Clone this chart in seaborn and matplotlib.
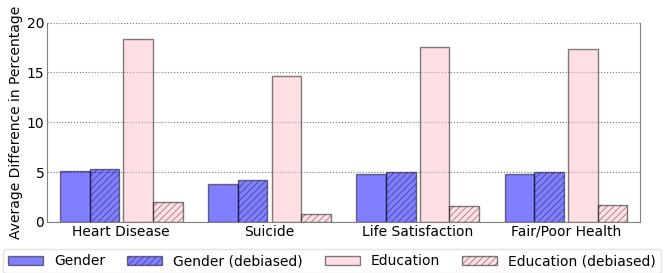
import matplotlib
matplotlib.use("Agg")
import matplotlib.pyplot as plt
import numpy as np
import pandas as pd
import seaborn as sns

categories = ["Heart Disease", "Suicide", "Life Satisfaction", "Fair/Poor Health"]
series = ["Gender", "Gender (debiased)", "Education", "Education (debiased)"]
gender = [5.1, 3.85, 4.85, 4.8]
gender_debiased = [5.35, 4.2, 5.05, 5.05]
education = [18.4, 14.6, 17.55, 17.4]
education_debiased = [2.0, 0.75, 1.65, 1.75]

colors = ["blue", "blue", "pink", "pink"]
hatches = [None, "/////", None, "/////"]

df = pd.DataFrame({
    "category": categories * 4,
    "series": np.repeat(series, len(categories)),
    "value": gender + gender_debiased + education + education_debiased,
})

sns.set_style("white")
plt.rcParams["font.family"] = ["DejaVu Sans"]
plt.rcParams["hatch.linewidth"] = 0.5
plt.rcParams["text.color"] = "black"
plt.rcParams["axes.labelcolor"] = "black"
plt.rcParams["xtick.color"] = "black"
plt.rcParams["ytick.color"] = "black"

fig = plt.figure(figsize=(6.64, 2.73), dpi=100)
ax = fig.add_axes([0.071, 0.187, 0.893, 0.730])

sns.barplot(
    data=df, x="category", y="value", hue="series", order=categories,
    hue_order=series, palette=colors, saturation=1, errorbar=None,
    legend=False, ax=ax,
)

shifts = [-0.014, -0.014, 0.014, 0.014]
for cont, h, s in zip(ax.containers, hatches, shifts):
    for p in cont.patches:
        p.set_alpha(0.5)
        p.set_edgecolor("black")
        p.set_linewidth(1.0)
        p.set_x(p.get_x() + s)
        if h:
            p.set_hatch(h)

ax.set_ylim(0, 20)
ax.set_xlim(-0.5, 3.5)
ax.set_yticks([0, 5, 10, 15, 20])
ax.yaxis.grid(True, linestyle=":", color="black", linewidth=0.8, alpha=0.55)
ax.set_axisbelow(True)
ax.set_xlabel("")
ax.set_ylabel("Average Difference in Percentage", fontsize=10, labelpad=3)
ax.tick_params(axis="both", length=0, labelsize=10, pad=2)
ax.set_xticks([0.5, 1.5, 2.5], minor=True)
ax.tick_params(axis="x", which="minor", length=2, color="grey")
for sp in ax.spines.values():
    sp.set_color("grey")
    sp.set_linewidth(0.8)
ax.spines["top"].set_visible(False)

leg = ax.legend(
    ax.containers, series, ncol=4, loc="upper center",
    bbox_to_anchor=(0.5, 0.112), bbox_transform=fig.transFigure,
    fontsize=10, handlelength=2.5, columnspacing=1.6, handletextpad=0.8,
    frameon=True, borderpad=0.35,
)
leg.get_frame().set_edgecolor("#dddddd")

fig.savefig("out.png", dpi=100)
